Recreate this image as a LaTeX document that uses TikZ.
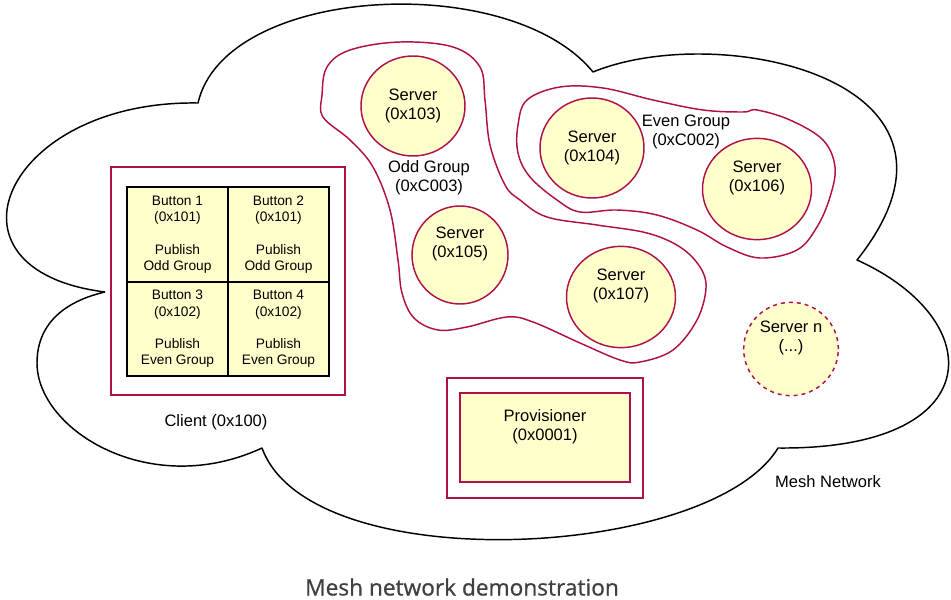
\documentclass[tikz,border=0pt]{standalone}
\usepackage{fontspec}
\setmainfont{Liberation Sans}
\newfontfamily\capfont{Open Sans}[FakeBold=0.8]
\usetikzlibrary{shapes.geometric,positioning}

\definecolor{meshred}{HTML}{B0104A}
\definecolor{meshfill}{HTML}{FFFFCC}
\definecolor{capgray}{HTML}{404040}

\tikzset{
  cloudline/.style={draw=black, line width=1.1pt, line join=round},
  groupline/.style={draw=meshred, line width=1.1pt},
  server/.style={ellipse, draw=meshred, fill=meshfill, line width=1.1pt,
    minimum width=78pt, minimum height=75pt, inner sep=0pt, align=center,
    font=\fontsize{12.4}{14.3}\selectfont},
  button/.style={rectangle, draw=black, fill=meshfill, line width=1.5pt,
    minimum width=75.75pt, minimum height=70.9pt, inner sep=0pt, outer sep=0pt,
    align=center, font=\fontsize{10.3}{12.2}\selectfont},
  redbox/.style={rectangle, draw=meshred, line width=1.1pt, inner sep=0pt},
  txt/.style={align=center, font=\fontsize{12.4}{14.3}\selectfont}
}

\begin{document}
\begin{tikzpicture}[x=0.75pt, y=-0.75pt]
  \useasboundingbox (0,0) rectangle (951,600);

  % cloud corners
  \coordinate (A) at (198,103);
  \coordinate (B) at (593,72);
  \coordinate (C) at (857,260);
  \coordinate (D) at (778,448);
  \coordinate (E) at (262,448);
  \coordinate (L) at (37,363);
  \coordinate (F) at (105,292);

  \draw[cloudline] (F) .. controls (-70,270) and (5,100) .. (A)
    .. controls (225,-15) and (510,-30) .. (B)
    .. controls (720,20) and (1000,80) .. (C)
    .. controls (990,320) and (990,450) .. (D)
    .. controls (710,560) and (310,580) .. (E)
    .. controls (150,500) and (37,430) .. (L)
    .. controls (37,320) and (70,300) .. (F);

  % groups
  \draw[groupline] plot[smooth cycle, tension=0.6] coordinates {
    (400,42) (453,47) (480,67) (485,100) (490,145) (505,185) (520,200)
    (547,217) (597,225) (647,233) (680,247) (700,267) (706,288) (697,320)
    (673,350) (640,362) (620,360) (580,343) (533,322) (507,317) (467,327)
    (438,330) (414,318) (402,293) (398,260) (390,210) (373,167) (350,140)
    (323,117) (322,95) (327,67) (350,50)};
  \draw[groupline] plot[smooth cycle, tension=0.6] coordinates {
    (560,87) (603,88) (653,100) (703,110) (743,112) (757,110) (790,120)
    (823,140) (835,167) (830,197) (817,227) (797,250) (760,258) (727,247)
    (697,230) (657,215) (617,210) (580,212) (557,200) (530,177) (518,153)
    (518,125) (527,100)};

  % servers
  \node[server] (s103) at (413,106) {Server\\(0x103)};
  \node[server] (s104) at (592,148) {Server\\(0x104)};
  \node[server, minimum width=72pt, minimum height=73.5pt] (s105) at (460,255) {Server\\(0x105)\\\strut};
  \node[server, minimum width=81.75pt, minimum height=76pt] (s106) at (757,189) {Server\\(0x106)\\\strut};
  \node[server, minimum width=81.75pt, minimum height=76pt] (s107) at (621,297) {Server\\(0x107)\\\strut};
  \node[server, dashed, minimum width=71pt, minimum height=70pt] (sn) at (791,349) {Server n\\(...)\\\strut};

  \node[txt] (oddlbl) at (429,178) {Odd Group\\(0xC003)};
  \node[txt] (evenlbl) at (686,132) {Even Group\\(0xC002)};

  % client
  \node[redbox, minimum width=175.5pt, minimum height=171pt] (client) at (228,281) {};
  \node[button] (b1) at (177.5,234.5) {Button 1\\(0x101)\\[12.2pt]Publish\\Odd Group};
  \node[button, right=0pt of b1] (b2) {Button 2\\(0x101)\\[12.2pt]Publish\\Odd Group};
  \node[button, below=0pt of b1] (b3) {Button 3\\(0x102)\\[12.2pt]Publish\\Even Group};
  \node[button, right=0pt of b3] (b4) {Button 4\\(0x102)\\[12.2pt]Publish\\Even Group};
  \node[txt] (clientlbl) at (216,422) {Client (0x100)};

  % provisioner
  \node[redbox, minimum width=147pt, minimum height=90pt] (provout) at (545,438) {};
  \node[redbox, fill=meshfill, minimum width=127.5pt, minimum height=66.75pt, txt]
    (prov) at (545,437.5) {Provisioner\\(0x0001)\\\strut};

  \node[txt] (meshlbl) at (828,482) {Mesh Network};
  \node[font=\capfont\fontsize{17}{20}\selectfont, text=capgray, inner sep=1pt] (caption) at (462,587) {Mesh network demonstration};
\end{tikzpicture}
\end{document}
